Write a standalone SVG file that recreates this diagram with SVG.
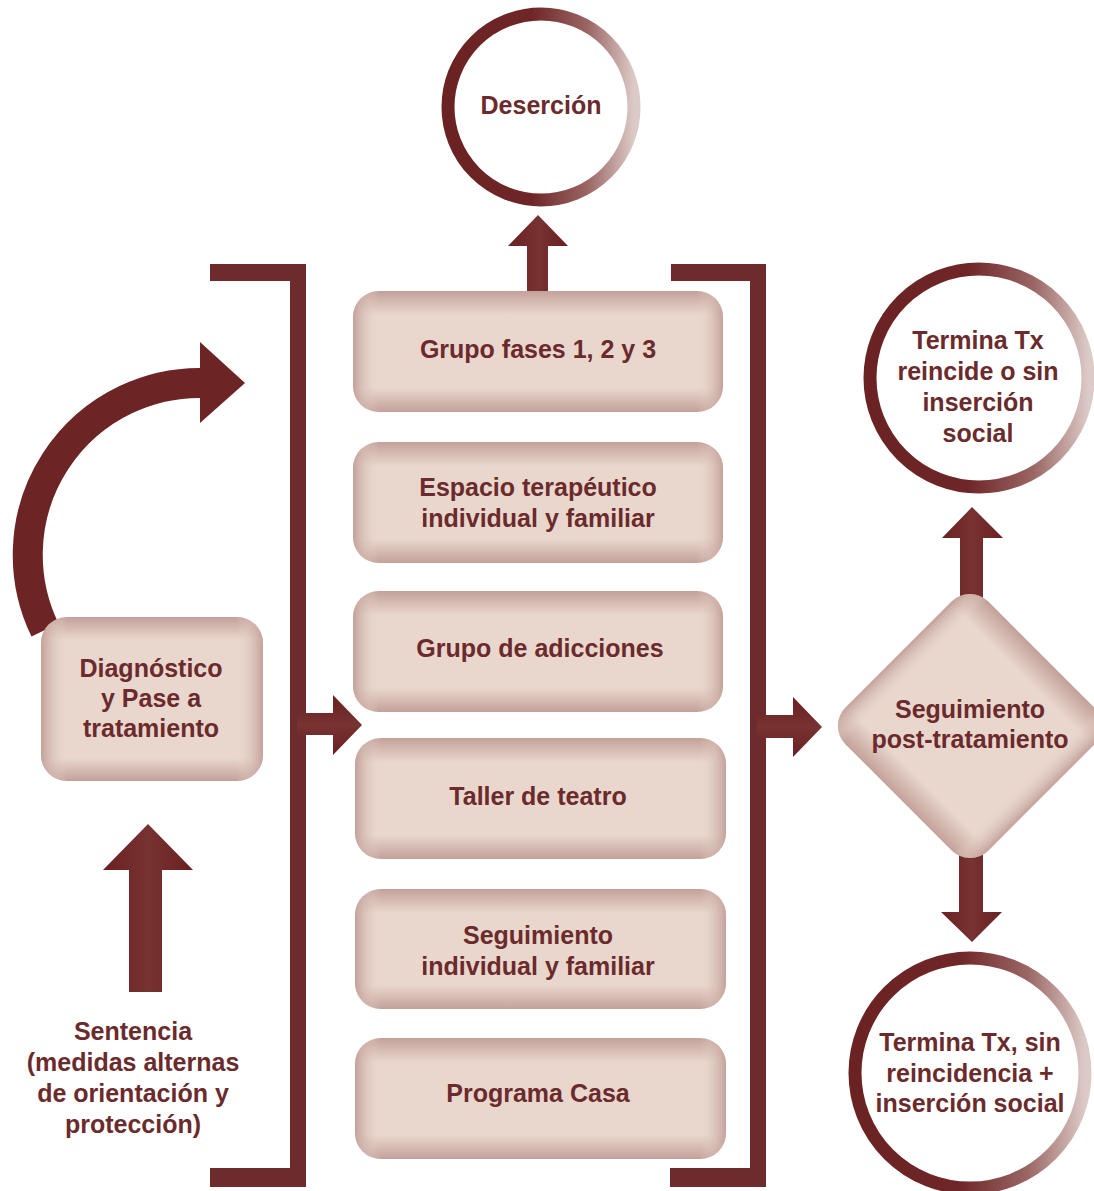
<svg xmlns="http://www.w3.org/2000/svg" width="1094" height="1191" viewBox="0 0 1094 1191">
<style>
  .t { font-family: "Liberation Sans", Arial, sans-serif; font-weight: bold; font-size: 25px; fill: #6b2a2c; text-anchor: middle; }
  .br { fill: #6d2b2e; }
  .ar { fill: url(#arV); }
  .arh { fill: url(#arH); }
  .ring { fill: #ffffff; stroke: url(#ringG); stroke-width: 13; }
</style>
<defs>
  <linearGradient id="bv" x1="0" y1="0" x2="0" y2="1">
    <stop offset="0" stop-color="#c3a199"/>
    <stop offset="0.2" stop-color="#e9d7ce"/>
    <stop offset="0.8" stop-color="#e9d7ce"/>
    <stop offset="1" stop-color="#c3a199"/>
  </linearGradient>
  <linearGradient id="bh" x1="0" y1="0" x2="1" y2="0">
    <stop offset="0" stop-color="#c3a199" stop-opacity="1"/>
    <stop offset="0.07" stop-color="#e9d7ce" stop-opacity="0"/>
    <stop offset="0.93" stop-color="#e9d7ce" stop-opacity="0"/>
    <stop offset="1" stop-color="#c3a199" stop-opacity="1"/>
  </linearGradient>
  <linearGradient id="bh2" x1="0" y1="0" x2="1" y2="0">
    <stop offset="0" stop-color="#c3a199" stop-opacity="1"/>
    <stop offset="0.12" stop-color="#e9d7ce" stop-opacity="0"/>
    <stop offset="0.88" stop-color="#e9d7ce" stop-opacity="0"/>
    <stop offset="1" stop-color="#c3a199" stop-opacity="1"/>
  </linearGradient>
  <linearGradient id="bv2" x1="0" y1="0" x2="0" y2="1">
    <stop offset="0" stop-color="#c3a199"/>
    <stop offset="0.14" stop-color="#e9d7ce"/>
    <stop offset="0.86" stop-color="#e9d7ce"/>
    <stop offset="1" stop-color="#c3a199"/>
  </linearGradient>
  <linearGradient id="ringG" x1="0" y1="0" x2="1" y2="0">
    <stop offset="0" stop-color="#6a2222"/>
    <stop offset="0.45" stop-color="#6f2628"/>
    <stop offset="0.75" stop-color="#9a6664"/>
    <stop offset="1" stop-color="#dccac7"/>
  </linearGradient>
  <linearGradient id="arV" x1="0" y1="0" x2="1" y2="0">
    <stop offset="0" stop-color="#6a2020"/>
    <stop offset="0.5" stop-color="#773232"/>
    <stop offset="1" stop-color="#6a2020"/>
  </linearGradient>
  <linearGradient id="arH" x1="0" y1="0" x2="0" y2="1">
    <stop offset="0" stop-color="#6a2020"/>
    <stop offset="0.5" stop-color="#773232"/>
    <stop offset="1" stop-color="#6a2020"/>
  </linearGradient>
</defs>

<rect width="1094" height="1191" fill="#ffffff"/>

<g id="connectors">
  <!-- left bracket -->
  <path class="br" d="M210 264 H306 V1187 H210 V1168 H290 V281 H210 Z"/>
  <!-- right bracket -->
  <path class="br" d="M671 264 H766 V1187 H670 V1168 H750 V281 H671 Z"/>
  <!-- curved arrow -->
  <path d="M45 630 A172 172 0 0 1 205 383" fill="none" stroke="#6c2424" stroke-width="30"/>
  <polygon fill="#6c2424" points="200,342 245,383 200,423"/>
  <!-- up arrow from Sentencia -->
  <polygon class="ar" points="129,992 162,992 162,870 193,870 148,824 103,870 129,870"/>
  <!-- arrow into boxes -->
  <polygon class="arh" points="297,713 333,713 333,695 362,725 333,755 333,735 297,735"/>
  <!-- arrow out of right bracket -->
  <polygon class="arh" points="757,715 793,715 793,697 822,727 793,757 793,738 757,738"/>
  <!-- up to Deserción -->
  <polygon class="ar" points="527,291 548,291 548,246 568,246 538,215 508,246 527,246"/>
  <!-- up from diamond -->
  <polygon class="ar" points="960,600 983,600 983,538 1003,538 972,507 942,538 960,538"/>
  <!-- down from diamond -->
  <polygon class="ar" points="959,855 983,855 983,912 1002,912 972,942 941,912 959,912"/>
</g>

<g id="desercion">
  <circle class="ring" cx="541" cy="107" r="93"/>
  <text class="t" x="541" y="114">Deserción</text>
</g>

<g id="box-grupo-fases">
  <rect x="353" y="291" width="370" height="121" rx="26" fill="url(#bv)"/>
  <rect x="353" y="291" width="370" height="121" rx="26" fill="url(#bh)"/>
  <text class="t" x="538" y="358">Grupo fases 1, 2 y 3</text>
</g>

<g id="box-espacio">
  <rect x="353" y="442" width="370" height="121" rx="26" fill="url(#bv)"/>
  <rect x="353" y="442" width="370" height="121" rx="26" fill="url(#bh)"/>
  <text class="t" x="538" y="496">Espacio terapéutico</text>
  <text class="t" x="538" y="527">individual y familiar</text>
</g>

<g id="box-adicciones">
  <rect x="353" y="591" width="370" height="121" rx="26" fill="url(#bv)"/>
  <rect x="353" y="591" width="370" height="121" rx="26" fill="url(#bh)"/>
  <text class="t" x="540" y="657">Grupo de adicciones</text>
</g>

<g id="box-teatro">
  <rect x="355" y="738" width="371" height="121" rx="26" fill="url(#bv)"/>
  <rect x="355" y="738" width="371" height="121" rx="26" fill="url(#bh)"/>
  <text class="t" x="538" y="805">Taller de teatro</text>
</g>

<g id="box-seguimiento">
  <rect x="355" y="889" width="371" height="120" rx="26" fill="url(#bv)"/>
  <rect x="355" y="889" width="371" height="120" rx="26" fill="url(#bh)"/>
  <text class="t" x="538" y="944">Seguimiento</text>
  <text class="t" x="538" y="975">individual y familiar</text>
</g>

<g id="box-casa">
  <rect x="355" y="1038" width="371" height="121" rx="26" fill="url(#bv)"/>
  <rect x="355" y="1038" width="371" height="121" rx="26" fill="url(#bh)"/>
  <text class="t" x="538" y="1102">Programa Casa</text>
</g>

<g id="diagnostico">
  <rect x="41" y="617" width="222" height="164" rx="26" fill="url(#bv2)"/>
  <rect x="41" y="617" width="222" height="164" rx="26" fill="url(#bh2)"/>
  <text class="t" x="151" y="677">Diagnóstico</text>
  <text class="t" x="151" y="707">y Pase a</text>
  <text class="t" x="151" y="737">tratamiento</text>
</g>

<g id="sentencia">
  <text class="t" x="133" y="1040">Sentencia</text>
  <text class="t" x="133" y="1071">(medidas alternas</text>
  <text class="t" x="133" y="1102">de orientación y</text>
  <text class="t" x="133" y="1133">protección)</text>
</g>

<g id="seguimiento-post">
  <g transform="translate(970 726) rotate(45)">
    <rect x="-101" y="-101" width="202" height="202" rx="26" fill="url(#bv2)"/>
    <rect x="-101" y="-101" width="202" height="202" rx="26" fill="url(#bh2)"/>
  </g>
  <text class="t" x="970" y="718">Seguimiento</text>
  <text class="t" x="970" y="748">post-tratamiento</text>
</g>

<g id="termina-reincide">
  <circle class="ring" cx="979" cy="378" r="109"/>
  <text class="t" x="978" y="349">Termina Tx</text>
  <text class="t" x="978" y="380">reincide o sin</text>
  <text class="t" x="978" y="411">inserción</text>
  <text class="t" x="978" y="442">social</text>
</g>

<g id="termina-sin-reincidencia">
  <circle class="ring" cx="970" cy="1073" r="115"/>
  <text class="t" x="970" y="1051">Termina Tx, sin</text>
  <text class="t" x="970" y="1082">reincidencia +</text>
  <text class="t" x="970" y="1112">inserción social</text>
</g>
</svg>
